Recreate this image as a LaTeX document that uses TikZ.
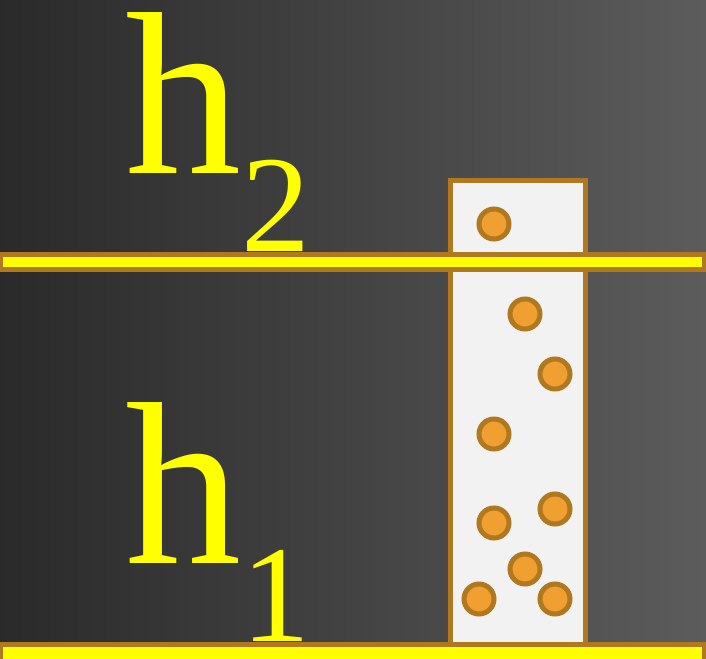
\documentclass[tikz,border=0pt]{standalone}
\usepackage{fontspec}
\setmainfont{Liberation Serif}
\usepackage{tikz}
\usetikzlibrary{positioning,calc}
\usepackage{xcolor}
\definecolor{rim}{RGB}{176,120,31}
\definecolor{ballfill}{RGB}{240,160,48}
\definecolor{tubefill}{RGB}{242,242,242}
\definecolor{bgdark}{RGB}{42,42,42}
\definecolor{bglight}{RGB}{92,92,92}
\definecolor{lvl}{RGB}{255,255,0}

\begin{document}
\begin{tikzpicture}[x=1pt,y=-1pt,
    bar/.style={draw=rim,fill=lvl,line width=5pt},
    ball/.style={circle,draw=rim,fill=ballfill,line width=5pt,minimum size=30pt,inner sep=0pt},
    big/.style={text=lvl,inner sep=0pt,outer sep=0pt,anchor=base west,font=\fontsize{232pt}{232pt}\selectfont},
    small/.style={text=lvl,inner sep=0pt,outer sep=0pt,anchor=base west,font=\fontsize{138pt}{138pt}\selectfont}]
  \useasboundingbox (0,0) rectangle (706,658);
  \shade[left color=bgdark,right color=bglight] (0,0) rectangle (706,658);
  % tube with the balls
  \draw[draw=rim,fill=tubefill,line width=5pt] (450,180) rectangle (585,645);
  \foreach \x/\y [count=\i] in {494/224,525/314,555/374,494/434,494/523,555/509,525/569,479/599,555/599}
    \node[ball] (b\i) at (\x,\y) {};
  % labels
  \node[big] (hTwo) at (125,173) {h};
  \node[small,yshift=-78pt] (hTwoSub) at (hTwo.base east) {2};
  \node[big] (hOne) at (125,563) {h};
  \node[small,yshift=-78pt] (hOneSub) at (hOne.base east) {1};
  % levels
  \draw[bar] (0,254.5) rectangle (704.5,269.5);
  \draw[bar] (0,644.5) rectangle (704.5,662);
\end{tikzpicture}
\end{document}
